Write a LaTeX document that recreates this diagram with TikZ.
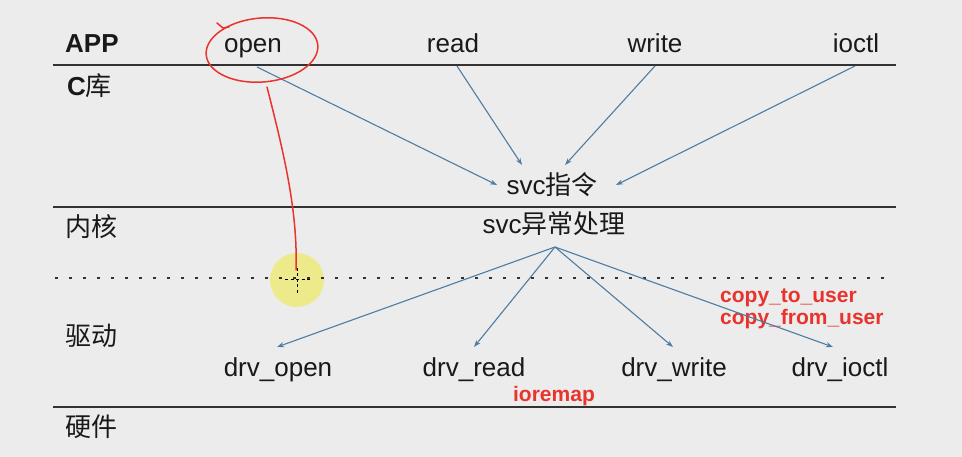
\documentclass[tikz,border=0pt]{standalone}
\usepackage{fontspec}
\setmainfont{Liberation Sans}
\newfontfamily\cjk{Noto Sans CJK SC}
\usetikzlibrary{arrows.meta}
\definecolor{bgc}{RGB}{236,236,236}
\definecolor{txt}{RGB}{25,25,25}
\definecolor{rulec}{RGB}{50,50,50}
\definecolor{arrc}{RGB}{78,124,162}
\definecolor{redc}{RGB}{232,52,44}
\definecolor{marker}{RGB}{238,234,130}
\tikzset{
  lbl/.style={inner sep=0pt, text=txt, font=\fontsize{26}{30}\selectfont},
  redlbl/.style={inner sep=0pt, text=redc, font=\fontsize{21}{24}\selectfont\bfseries},
  rulel/.style={draw=rulec, line width=2pt},
  dotl/.style={draw=rulec, line width=2.8pt, dash pattern=on 2.8pt off 11.2pt},
  arr/.style={draw=arrc, line width=1.1pt, -{Stealth[length=7pt,width=5pt]}},
  redline/.style={draw=redc, line width=1.5pt, line cap=round, line join=round},
}
\begin{document}
\begin{tikzpicture}[x=1pt,y=-1pt]
\fill[bgc] (0,0) rectangle (962,457);
\useasboundingbox (0,0) rectangle (962,457);

% rules
\draw[rulel] (53,65) -- (896,65);
\draw[rulel] (53,207) -- (896,207);
\draw[rulel] (53,407) -- (896,407);

% marker highlight
\fill[marker, fill opacity=0.9] (297,280) circle [radius=27];
\draw[dotl] (55,278) -- (890,278);

% layer labels
\node[lbl, anchor=base west, font=\fontsize{26}{30}\selectfont\bfseries] (app) at (65,53) {APP};
\node[lbl, anchor=base west] (clib) at (67,96) {{\bfseries C}{\cjk 库}};
\node[lbl, anchor=base west] (kern) at (65,237) {\cjk 内核};
\node[lbl, anchor=base west] (drv) at (65,345) {\cjk 驱动};
\node[lbl, anchor=base west] (hw) at (65,436) {\cjk 硬件};

% app calls
\node[lbl, anchor=base] (open) at (253,53) {open};
\node[lbl, anchor=base] (read) at (453,53) {read};
\node[lbl, anchor=base] (write) at (655,53) {write};
\node[lbl, anchor=base] (ioctl) at (856,53) {ioctl};

% svc
\node[lbl, anchor=base] (svci) at (552,195) {svc{\cjk 指令}};
\node[lbl, anchor=base] (svce) at (554,234) {svc{\cjk 异常处理}};

% drivers
\node[lbl, anchor=base] (dopen) at (278,376) {drv\_open};
\node[lbl, anchor=base] (dread) at (474,376) {drv\_read};
\node[lbl, anchor=base] (dwrite) at (674,376) {drv\_write};
\node[lbl, anchor=base] (dioctl) at (840,376) {drv\_ioctl};

% red labels
\node[redlbl, anchor=base] (iorem) at (554,401) {ioremap};
\node[redlbl, anchor=base west] (ctu) at (720,302) {copy\_to\_user};
\node[redlbl, anchor=base west] (cfu) at (720,325) {copy\_from\_user};

% arrow end points
\coordinate (openS) at (257,67);
\coordinate (readS) at (457,66);
\coordinate (writeS) at (655,66);
\coordinate (ioctlS) at (855,66);
\coordinate (svcL) at (497,185);
\coordinate (svcTL) at (522,165);
\coordinate (svcTR) at (565,165);
\coordinate (svcR) at (616,185);
\coordinate (svceS) at (555,247);
\coordinate (dopenN) at (277,347);
\coordinate (dreadN) at (474,347);
\coordinate (dwriteN) at (673,347);
\coordinate (dioctlN) at (833,347);

\draw[arr] (openS) -- (svcL);
\draw[arr] (readS) -- (svcTL);
\draw[arr] (writeS) -- (svcTR);
\draw[arr] (ioctlS) -- (svcR);
\draw[arr] (svceS) -- (dopenN);
\draw[arr] (svceS) -- (dreadN);
\draw[arr] (svceS) -- (dwriteN);
\draw[arr] (svceS) -- (dioctlN);

% red freehand annotation
\draw[redline] (262,50) ellipse [x radius=56, y radius=32, rotate=5];
\draw[redline] (217,23) -- (223,28) -- (229,27);
\draw[redline] (267,87) .. controls (283,150) and (298,210) .. (296,270);

% cursor
\draw[black, line width=1pt, dash pattern=on 3pt off 2.5pt] (297,268) -- (297,293);
\draw[black, line width=1pt, dash pattern=on 3pt off 2.5pt] (285,280) -- (310,280);
\end{tikzpicture}
\end{document}
